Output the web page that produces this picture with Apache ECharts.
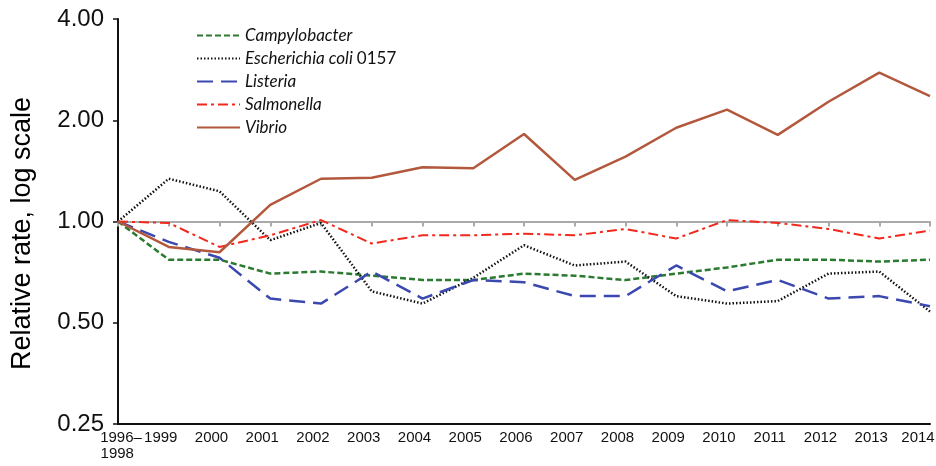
<!DOCTYPE html>
<html>
<head>
<meta charset="utf-8">
<title>Relative rates</title>
<script src="https://cdn.jsdelivr.net/npm/echarts@6/dist/echarts.min.js"></script>
<style>
    html, body { margin: 0; padding: 0; background: #fff; }
    .echarts { width: 936px; height: 466px; }
</style>
</head>
<body>
<div class="echarts"></div>
<script>
// 横轴年份
var years = ['1996–\n1998', '1999', '2000', '2001', '2002', '2003', '2004', '2005', '2006',
    '2007', '2008', '2009', '2010', '2011', '2012', '2013', '2014'];
// 纵轴刻度 (log2)
var yTicks = [0.25, 0.5, 1, 2, 4];

// 各病原体相对比率
var campylobacter = [1.00, 0.77, 0.77, 0.70, 0.71, 0.69, 0.67, 0.67, 0.70, 0.69, 0.67, 0.70, 0.73, 0.77, 0.77, 0.76, 0.77];
var ecoli = [1.00, 1.34, 1.23, 0.88, 0.99, 0.62, 0.57, 0.68, 0.85, 0.74, 0.76, 0.60, 0.57, 0.58, 0.70, 0.71, 0.54];
var listeria = [1.00, 0.87, 0.78, 0.59, 0.57, 0.71, 0.59, 0.67, 0.66, 0.60, 0.60, 0.74, 0.62, 0.67, 0.59, 0.60, 0.56];
var salmonella = [1.00, 0.99, 0.84, 0.91, 1.01, 0.86, 0.91, 0.91, 0.92, 0.91, 0.95, 0.89, 1.01, 0.99, 0.95, 0.89, 0.94];
var vibrio = [1.00, 0.84, 0.81, 1.12, 1.34, 1.35, 1.45, 1.44, 1.82, 1.33, 1.56, 1.90, 2.15, 1.81, 2.27, 2.77, 2.36];

function myecharts() {
    var myChart = echarts.init(document.querySelector('.echarts'));

    var xData = years.map(function(y, i) {
        if (i == 0) {
            // 第一个标签两行靠左
            return { value: y + '\u2002', textStyle: { padding: [0, 0, 0, 6] } };
        }
        if (i == years.length - 1) {
            // 最后一个标签贴右边
            return { value: y, textStyle: { padding: [0, 24, 0, 0] } };
        }
        return y;
    });

    function line(name, data, color, type, width) {
        return {
            name: name,
            type: 'line',
            data: data,
            symbol: 'none',
            z: 3,
            lineStyle: { color: color, type: type, width: width },
            itemStyle: { color: color }
        };
    }

    var option = {
        animation: false,
        grid: {
            top: 19,
            left: 118,
            right: 6,
            bottom: 42,
            containLabel: false,
            outerBoundsMode: 'none'
        },
        legend: {
            orient: 'vertical',
            left: 191,
            top: 22,
            itemWidth: 43,
            itemHeight: 14,
            itemGap: 6,
            itemStyle: { opacity: 0 },
            textStyle: {
                fontFamily: 'Lato',
                fontSize: 17,
                lineHeight: 14,
                fontStyle: 'italic',
                color: '#111',
                rich: {
                    i: { fontFamily: 'Lato', fontSize: 17, lineHeight: 14, fontStyle: 'italic', color: '#111' },
                    n: { fontFamily: 'Lato', fontSize: 17, lineHeight: 14, fontStyle: 'normal', color: '#111' }
                }
            },
            formatter: function(name) {
                if (name == 'Escherichia coli 0157') {
                    return '{i|Escherichia coli} {n|0157}';
                }
                return name;
            },
            data: ['Campylobacter', 'Escherichia coli 0157', 'Listeria', 'Salmonella', 'Vibrio']
        },
        xAxis: [{
            type: 'category',
            data: xData,
            boundaryGap: false,
            axisLine: { lineStyle: { color: '#111', width: 2 } },
            axisTick: { show: false },
            axisLabel: {
                interval: 0,
                margin: 6,
                fontFamily: 'Liberation Sans',
                fontSize: 15,
                color: '#111',
                lineHeight: 16,
                padding: [0, 16, 0, 0]
            }
        }, {
            // 1.00 处的灰色参考线
            type: 'category',
            data: years,
            boundaryGap: false,
            position: 'bottom',
            offset: -202.5,
            axisLine: { lineStyle: { color: '#aaa', width: 2 } },
            axisTick: { show: true, length: 5, lineStyle: { color: '#aaa', width: 2 } },
            axisLabel: { show: false }
        }],
        yAxis: {
            type: 'log',
            logBase: 2,
            min: yTicks[0],
            max: yTicks[yTicks.length - 1],
            interval: 1,
            name: 'Relative rate, log scale',
            nameLocation: 'middle',
            nameGap: 82,
            nameTextStyle: {
                fontFamily: 'Liberation Sans',
                fontSize: 27,
                color: '#000',
                padding: [0, 24, 0, 0]
            },
            axisLine: { show: true, lineStyle: { color: '#111', width: 2 } },
            axisTick: { show: true, length: 5, lineStyle: { color: '#111', width: 1.5 } },
            splitLine: { show: false },
            axisLabel: {
                margin: 14,
                fontFamily: 'Liberation Sans',
                fontSize: 24,
                color: '#111',
                formatter: function(v) {
                    return v.toFixed(2);
                }
            }
        },
        series: [
            line('Campylobacter', campylobacter, '#2a7a30', [6, 3], 2.5),
            line('Escherichia coli 0157', ecoli, '#111', [1.5, 2], 2.5),
            line('Listeria', listeria, '#3a48b0', [16, 8], 2.5),
            line('Salmonella', salmonella, '#f2281c', [10, 4, 3, 4], 2),
            line('Vibrio', vibrio, '#b3583d', 'solid', 2.5)
        ]
    };
    myChart.setOption(option);
}
myecharts();
</script>
</body>
</html>
